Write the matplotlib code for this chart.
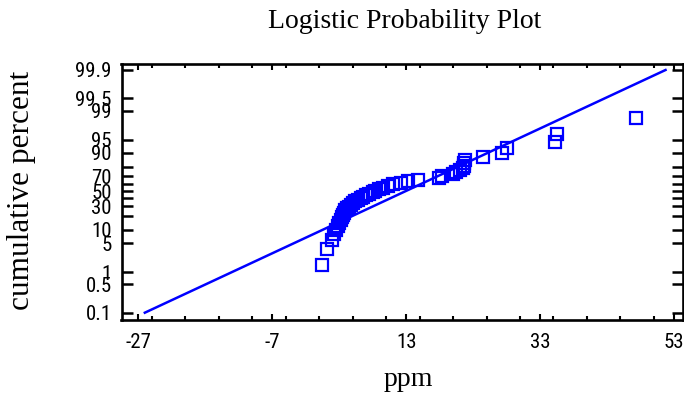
import numpy as np
import matplotlib
matplotlib.use("Agg")
import matplotlib.pyplot as plt
from matplotlib.ticker import FixedLocator, MultipleLocator

# Sorted sample (ppm)
ppm = [0.5, 1.2, 1.9, 2.2, 2.5, 2.8, 3.0, 3.2, 3.4, 3.6, 3.7, 3.9,
       4.1, 4.5, 4.8, 5.1, 5.4, 5.8, 6.2, 6.6, 7.0, 7.5, 8.0, 8.4,
       9.0, 9.6, 10.3, 11.1, 12.3, 13.3, 14.7, 17.9, 18.4, 20.0, 20.5, 21.1,
       21.5, 21.6, 21.7, 21.8, 24.4, 27.3, 28.0, 35.2, 35.5, 47.3]

# Fitted logistic distribution
fit_location = 12.85
fit_scale = 5.63

x_ticks = [-27, -7, 13, 33, 53]
y_ticks = [0.1, 0.5, 1, 5, 10, 20, 30, 40, 50, 60, 70, 80, 90, 95, 99, 99.5, 99.9]
y_labels = {0.1: "0.1", 0.5: "0.5", 1: "1", 5: "5", 10: "10", 30: "30", 50: "50",
            70: "70", 90: "90", 95: "95", 99: "99", 99.5: "99.5", 99.9: "99.9"}

BLUE = "#0000FF"
SANS = ["Roboto Condensed", "Liberation Sans", "DejaVu Sans"]
SERIF = ["Liberation Serif", "DejaVu Serif"]


def fwd(p):
    p = np.clip(np.asarray(p, dtype=float) / 100.0, 1e-9, 1 - 1e-9)
    return np.log(p / (1 - p))


def inv(z):
    return 100.0 / (1 + np.exp(-np.asarray(z, dtype=float)))


n = len(ppm)
ranks = np.arange(1, n + 1)
cum_pct = 100.0 * (ranks - 0.3) / (n + 0.4)

W, H = 684, 394
fig = plt.figure(figsize=(W / 100, H / 100), dpi=100)
ax = fig.add_axes([121.5 / W, 1 - 319.5 / H, (682.5 - 121.5) / W, (319.5 - 64) / H])
ax.set_yscale("function", functions=(fwd, inv))

# fitted line between the 0.1% and 99.9% quantiles
line_p = np.array([0.1, 99.9])
line_x = fit_location + fit_scale * fwd(line_p)
ax.plot(line_x, line_p, color=BLUE, lw=1.8, zorder=2)

ax.plot(ppm, cum_pct, linestyle="none", marker="s", markersize=8,
        markerfacecolor="none", markeredgecolor=BLUE, markeredgewidth=1.6, zorder=3)

ax.set_xlim(-29.52, 54.27)
ax.set_ylim(inv(-7.294), inv(7.248))

ax.xaxis.set_major_locator(FixedLocator(x_ticks))
ax.xaxis.set_minor_locator(MultipleLocator(5))
ax.set_xticklabels([str(t) for t in x_ticks])
ax.yaxis.set_major_locator(FixedLocator(y_ticks))
ax.yaxis.set_minor_locator(FixedLocator([]))
ax.set_yticklabels([y_labels.get(t, "") for t in y_ticks])

for sp in ax.spines.values():
    sp.set_linewidth(1.9)

ax.tick_params(axis="x", which="major", direction="in", length=4, width=1.5,
               top=True, bottom=True, pad=10)
ax.tick_params(axis="x", which="minor", direction="in", length=3, width=1.5,
               top=True, bottom=True)
ax.tick_params(axis="y", which="major", direction="in", length=8, width=1.8,
               left=True, right=True, pad=7)

for lab in ax.get_xticklabels() + ax.get_yticklabels():
    lab.set_family(SANS)
    lab.set_fontsize(15)

fig.text(405 / W, 1 - 22 / H, "Logistic Probability Plot", family=SERIF,
         fontsize=20, ha="center", va="center")
fig.text(408 / W, 1 - 379 / H, "ppm", family=SERIF, fontsize=20,
         ha="center", va="center")
fig.text(22 / W, 1 - 190 / H, "cumulative percent", family=SERIF, fontsize=22.5,
         rotation=90, ha="center", va="center")

fig.savefig("out.png", dpi=100)
